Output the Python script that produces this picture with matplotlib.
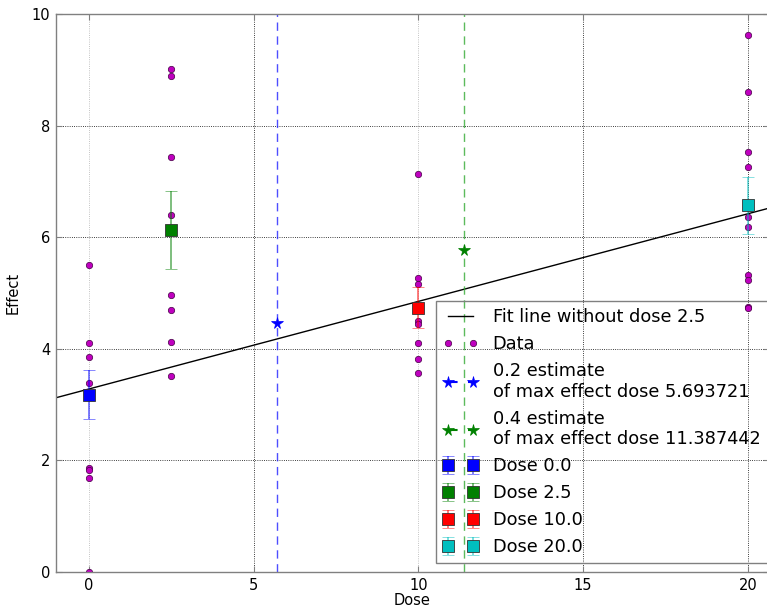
import numpy as np
import matplotlib
matplotlib.use("Agg")
import matplotlib.pyplot as plt

# ---- data ----
doses = [0.0, 2.5, 10.0, 20.0]
effects_dose0 = [5.50, 4.10, 3.86, 3.39, 1.86, 1.82, 1.69, 0.0]
effects_dose25 = [9.01, 8.89, 7.43, 6.40, 4.96, 4.70, 4.12, 3.52]
effects_dose10 = [7.13, 5.26, 5.16, 4.50, 4.45, 4.10, 3.82, 3.56]
effects_dose20 = [9.63, 8.61, 7.53, 7.26, 6.37, 6.19, 5.32, 5.23, 4.75, 4.73]
dose_means = [3.18, 6.13, 4.74, 6.57]
dose_sems = [0.44, 0.70, 0.37, 0.51]
dose_colors = ['b', 'g', 'r', 'c']
dose_labels = ['Dose 0.0', 'Dose 2.5', 'Dose 10.0', 'Dose 20.0']

fit_intercept = 3.28
fit_slope = 0.157

est_doses = [5.693721, 11.387442]
est_effects = [4.47, 5.77]
est_fracs = ['0.2', '0.4']
est_colors = ['b', 'g']
vline_colors = ['#2222ff', '#33aa33']

xticks = [0, 5, 10, 15, 20]
yticks = [0, 2, 4, 6, 8, 10]
xlim = (-1.0, 20.64)
ylim = (0, 10)

# ---- figure ----
plt.rcParams['font.family'] = ['DejaVu Sans']
fig = plt.figure(figsize=(7.67, 6.10), dpi=100)
ax = fig.add_axes([56 / 767, 38 / 610, 713 / 767, 558 / 610])

ax.set_xlim(*xlim)
ax.set_ylim(*ylim)
ax.set_xticks(xticks)
ax.set_yticks(yticks)
ax.grid(True, color='k', linestyle=':', linewidth=0.6)
ax.set_axisbelow(True)
# vertical grid lines at 0 and 10 look lighter in the reference
for i, gl in enumerate(ax.get_xgridlines()):
    if xticks[i] in (0, 10):
        gl.set_color('#b0b0b0')

# fit line
xs = np.array(xlim)
ax.plot(xs, fit_intercept + fit_slope * xs, color='k', lw=1.0,
        label='Fit line without dose 2.5')

# data
all_groups = [effects_dose0, effects_dose25, effects_dose10, effects_dose20]
data_x = np.concatenate([[d] * len(g) for d, g in zip(doses, all_groups)])
data_y = np.concatenate(all_groups)
ax.plot(data_x, data_y, linestyle='none', marker='o', color='m',
        markersize=4.6, markeredgecolor='#440044', markeredgewidth=0.5,
        label='Data')

# estimates
for xd, yd, fr, c, vc in zip(est_doses, est_effects, est_fracs, est_colors, vline_colors):
    ax.axvline(xd, color=vc, linestyle='--', dashes=(6, 4), lw=1.0, alpha=0.8)
    ax.plot([xd], [yd], color=c, marker='*', linestyle='--', dashes=(4.6, 5.0),
            markersize=8.5, markeredgewidth=0.5,
            label='%s estimate\nof max effect dose %f' % (fr, xd))

# dose means with error bars
for d, m, e, c, lab in zip(doses, dose_means, dose_sems, dose_colors, dose_labels):
    ecol = matplotlib.colors.to_rgba(c, 0.55)
    ax.errorbar([d], [m], yerr=[e], fmt='s', color=c, ecolor=ecol,
                elinewidth=1.3, capsize=4, capthick=1.0, markersize=9,
                markeredgecolor='#333333', markeredgewidth=0.6, label=lab)

for s in ax.spines.values():
    s.set_color('#808080')
    s.set_linewidth(1.0)

ax.tick_params(direction='in', length=4, labelsize=10.5, color='#808080',
               top=True, right=True, pad=4)
ax.set_xlabel('Dose', fontsize=10.5, labelpad=0)
ax.set_ylabel('Effect', fontsize=10.5, labelpad=8)

leg = ax.legend(loc='lower right', bbox_to_anchor=(0.998, 0.016),
                borderaxespad=0, numpoints=2, fontsize=12.8,
                handlelength=2.0, handletextpad=0.8, borderpad=0.4,
                labelspacing=0.5, fancybox=False, framealpha=1)
leg.get_frame().set_facecolor('none')
leg.get_frame().set_edgecolor('#808080')
leg.get_frame().set_linewidth(1.0)

fig.savefig('out.png', dpi=100, facecolor='white')
